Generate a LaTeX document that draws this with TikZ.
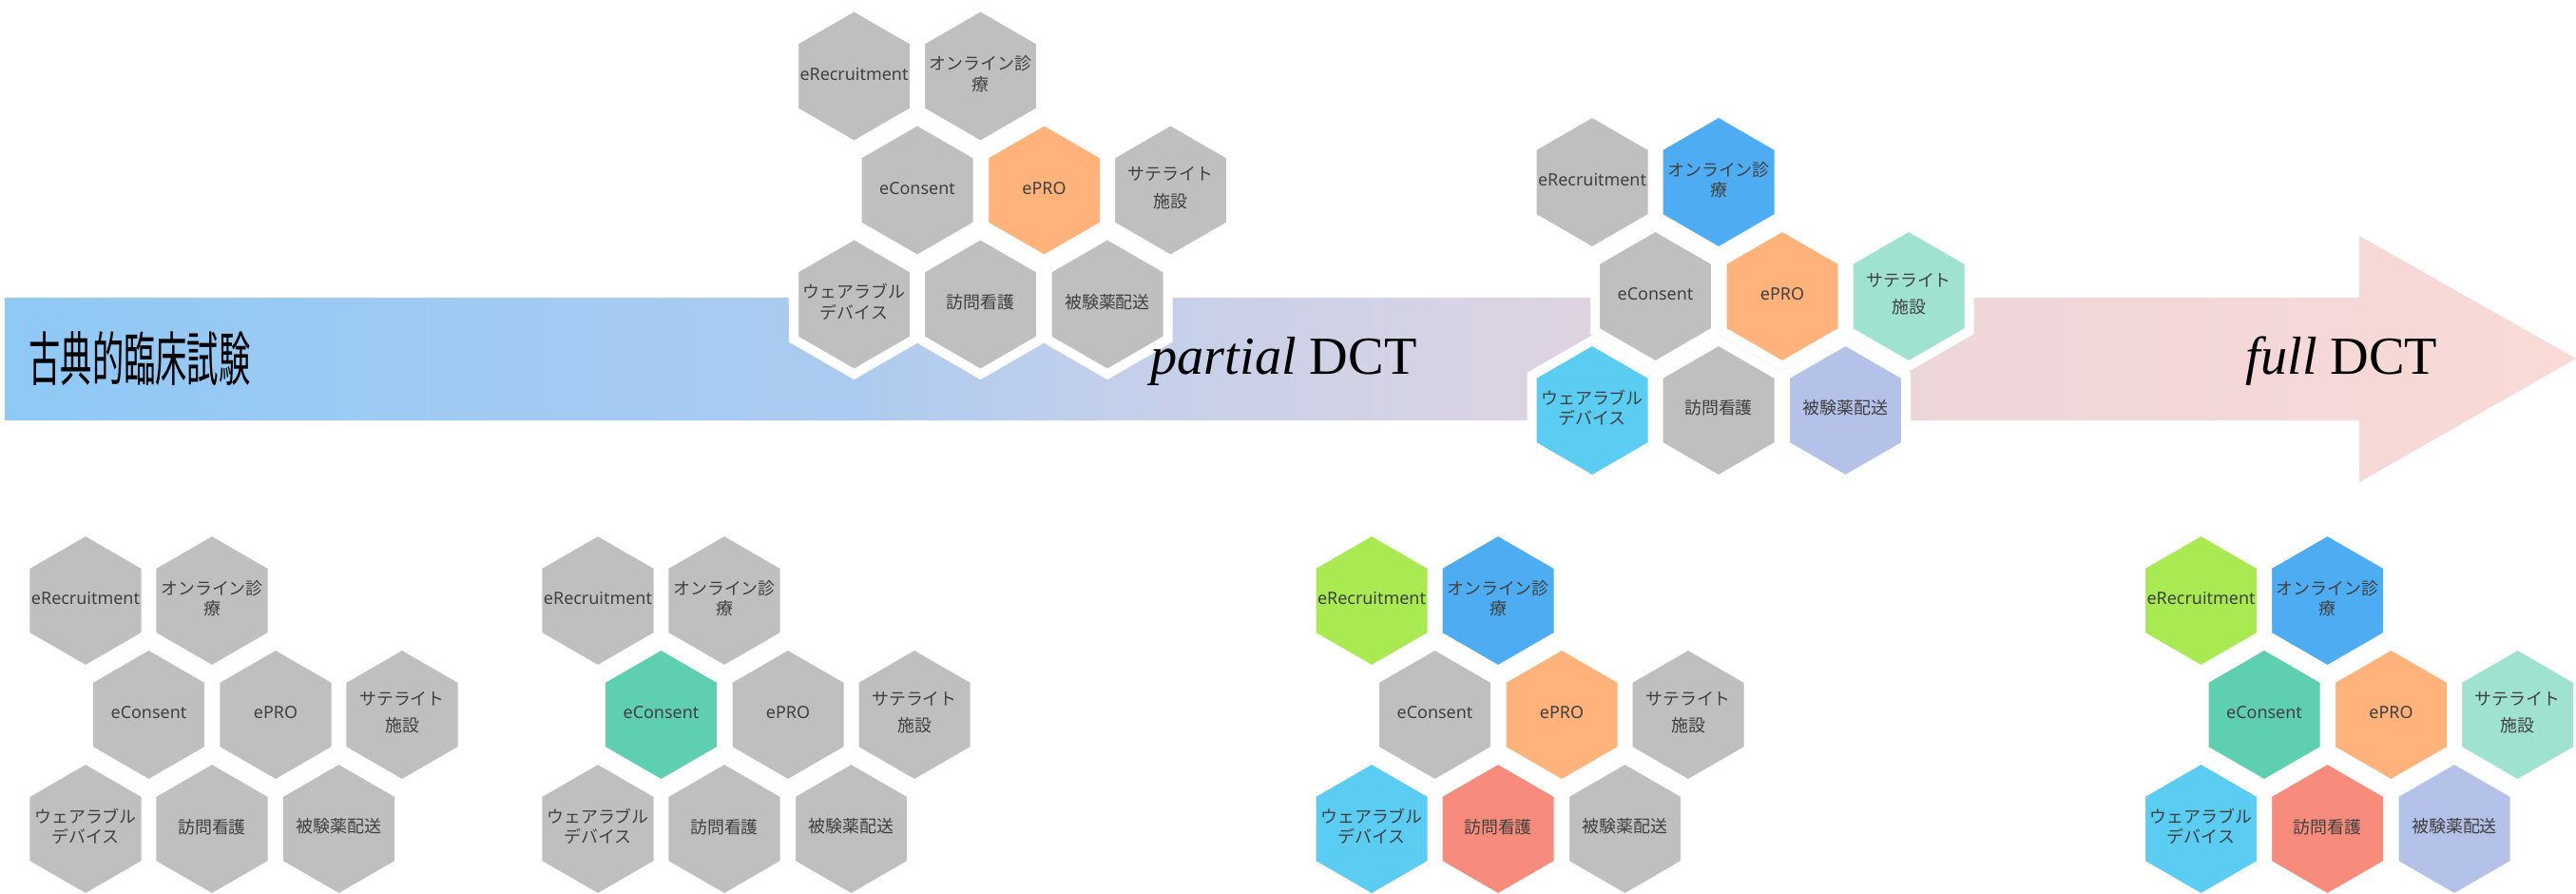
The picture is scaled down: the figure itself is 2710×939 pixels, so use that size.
\documentclass[tikz,border=0pt]{standalone}
\usepackage{fontspec}
\usepackage{graphicx}
\usetikzlibrary{shapes.geometric}
\setmainfont{Liberation Serif}
\newfontfamily\cjk{Noto Sans CJK JP}
\newfontfamily\lat{Noto Sans}
\definecolor{hexgray}{HTML}{BFBFBF}
\definecolor{textgray}{HTML}{404040}
\definecolor{epro}{HTML}{FFB27A}
\definecolor{online}{HTML}{4EACF2}
\definecolor{satellite}{HTML}{A0E2D0}
\definecolor{delivery}{HTML}{B4C1E8}
\definecolor{wearable}{HTML}{5BCCF2}
\definecolor{consent}{HTML}{5ECFB0}
\definecolor{recruit}{HTML}{A9EA53}
\definecolor{visit}{HTML}{F78C7D}
%%Blue to pink along the arrow (the path fills 25bp to 75bp)
\pgfdeclarehorizontalshading{arrowshade}{100bp}{rgb(0bp)=(0.561,0.788,0.961); rgb(25bp)=(0.561,0.788,0.961); rgb(41.5bp)=(0.675,0.796,0.941); rgb(47bp)=(0.769,0.816,0.922); rgb(54bp)=(0.855,0.827,0.890); rgb(63.5bp)=(0.941,0.839,0.851); rgb(75bp)=(0.976,0.855,0.839); rgb(100bp)=(0.976,0.855,0.839)}
%%Every cell is gray unless a group says otherwise
\colorlet{c-rec}{hexgray}
\colorlet{c-onl}{hexgray}
\colorlet{c-con}{hexgray}
\colorlet{c-pro}{hexgray}
\colorlet{c-sat}{hexgray}
\colorlet{c-wea}{hexgray}
\colorlet{c-vis}{hexgray}
\colorlet{c-drg}{hexgray}
%%Centred text of no size, so the hexagon keeps its own size
\newcommand{\celltext}[1]{\smash{\makebox[0pt]{\raisebox{\dimexpr.5\depth-.5\height\relax}{\begin{tabular}[b]{@{}c@{}}#1\end{tabular}}}}}
%%One group of eight cells, #1 is the name prefix
\newcommand{\hexgroup}[1]{%
  \foreach \nm/\dx/\dy/\txt in {rec/0/0/{\lat eRecruitment},onl/133/0/{オンライン診\\療},con/66.5/120/{\lat eConsent},pro/200/120/{\lat ePRO},sat/333/120/{サテライト\\[2pt]施設},wea/0/240/{ウェアラブル\\デバイス},vis/133/240/訪問看護,drg/266.5/240/被験薬配送}{
    \node[hex,fill=c-\nm] (#1-\nm) at (\dx,\dy) {\celltext{\txt}};
  }%
}

\begin{document}
\begin{tikzpicture}[x=0.01cm,y=-0.01cm]
  %%Create the styles for the cells and the arrow
  \tikzset{hex/.style={regular polygon,regular polygon sides=6,shape border rotate=30,minimum size=1.466cm,inner sep=0pt,draw=white,line width=0.1cm,text=textgray,font=\cjk\fontsize{5.1pt}{5.8pt}\selectfont}}
  \tikzset{big arrow/.style={shading=arrowshade}}
  \tikzset{stage/.style={anchor=base west,inner sep=0pt,font=\fontsize{16pt}{18pt}\selectfont}}
  \useasboundingbox (0,0) rectangle (2710,939);
  %%The arrow
  \path[big arrow] (5,313) -- (2482,313) -- (2482,248) -- (2710,377) -- (2482,507) -- (2482,442) -- (5,442) -- cycle;
  %%Create the coordinates to place the groups
  \path (898.5,80) coordinate (pa) (1675,191.5) coordinate (pb);
  \path (90,631.5) coordinate (qa) ++(539,0) coordinate (qb) ++(814,0) coordinate (qc) ++(872.5,0) coordinate (qd);
  %%Groups on the arrow
  \begin{scope}[shift={(pa)}]
    \colorlet{c-pro}{epro}
    \hexgroup{pa}
  \end{scope}
  \begin{scope}[shift={(pb)}]
    \colorlet{c-onl}{online}
    \colorlet{c-pro}{epro}
    \colorlet{c-sat}{satellite}
    \colorlet{c-wea}{wearable}
    \colorlet{c-drg}{delivery}
    \hexgroup{pb}
  \end{scope}
  %%Groups below the arrow
  \begin{scope}[shift={(qa)}]
    \hexgroup{qa}
  \end{scope}
  \begin{scope}[shift={(qb)}]
    \colorlet{c-con}{consent}
    \hexgroup{qb}
  \end{scope}
  \begin{scope}[shift={(qc)}]
    \colorlet{c-rec}{recruit}
    \colorlet{c-onl}{online}
    \colorlet{c-pro}{epro}
    \colorlet{c-wea}{wearable}
    \colorlet{c-vis}{visit}
    \hexgroup{qc}
  \end{scope}
  \begin{scope}[shift={(qd)}]
    \colorlet{c-rec}{recruit}
    \colorlet{c-onl}{online}
    \colorlet{c-con}{consent}
    \colorlet{c-pro}{epro}
    \colorlet{c-sat}{satellite}
    \colorlet{c-wea}{wearable}
    \colorlet{c-vis}{visit}
    \colorlet{c-drg}{delivery}
    \hexgroup{qd}
  \end{scope}
  %%Stage titles
  \node[anchor=west,inner sep=0pt] (classic) at (30,377) {\scalebox{.54}[1]{\cjk\fontsize{17.5pt}{18pt}\selectfont 古典的臨床試験}};
  \node[stage] (partial) at (1210,393) {\textit{partial} DCT};
  \node[stage] (full) at (2362,393) {\textit{full} DCT};
\end{tikzpicture}
\end{document}
